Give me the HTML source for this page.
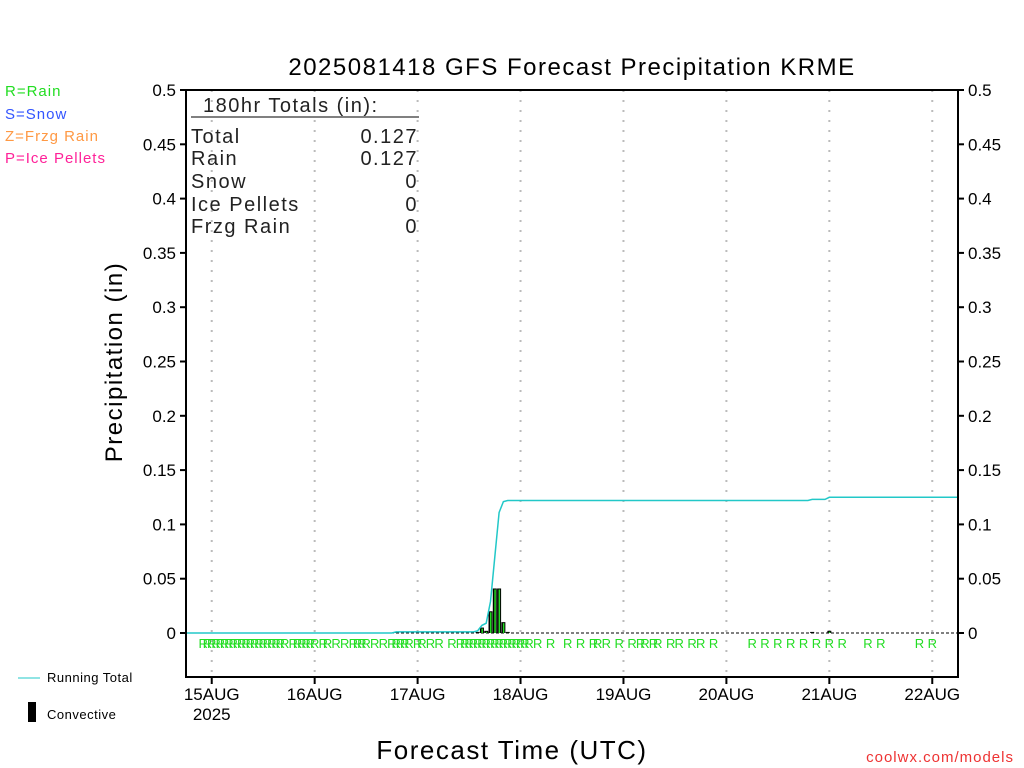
<!DOCTYPE html>
<html><head><meta charset="utf-8"><style>
html,body{margin:0;padding:0;background:#fff;}
svg{display:block;font-family:"Liberation Sans",sans-serif;}
</style></head><body>
<svg id="c" width="1024" height="768" viewBox="0 0 1024 768" xmlns="http://www.w3.org/2000/svg">
<text x="572" y="75" font-size="24" text-anchor="middle" fill="#000" letter-spacing="1.5">2025081418 GFS Forecast Precipitation KRME</text>
<g font-size="15" letter-spacing="1">
<text x="5" y="96" fill="#22dd22">R=Rain</text>
<text x="5" y="119" fill="#3355ff">S=Snow</text>
<text x="5" y="141" fill="#ff9944">Z=Frzg Rain</text>
<text x="5" y="163" fill="#ff2299">P=Ice Pellets</text>
</g>
<g id="grid"></g>
<g id="marks"></g>
<rect x="186" y="90" width="772" height="587" fill="none" stroke="#000" stroke-width="2"/>
<g id="axes" font-size="17"></g>
<g font-size="20" fill="#222" letter-spacing="1.5">
<text x="203" y="112">180hr Totals (in):</text>
<line x1="191" y1="117" x2="419" y2="117" stroke="#000" stroke-width="1"/>
<text x="191" y="143">Total</text><text x="418" y="143" text-anchor="end">0.127</text>
<text x="191" y="165">Rain</text><text x="418" y="165" text-anchor="end">0.127</text>
<text x="191" y="188">Snow</text><text x="418" y="188" text-anchor="end">0</text>
<text x="191" y="211">Ice Pellets</text><text x="418" y="211" text-anchor="end">0</text>
<text x="191" y="233">Frzg Rain</text><text x="418" y="233" text-anchor="end">0</text>
</g>
<text transform="translate(122,362) rotate(-90)" font-size="24" text-anchor="middle" letter-spacing="1.5">Precipitation (in)</text>
<text x="512" y="759" font-size="26" text-anchor="middle" letter-spacing="1.5">Forecast Time (UTC)</text>
<text x="1014" y="762" font-size="15" text-anchor="end" fill="#ee3333" letter-spacing="1">coolwx.com/models</text>
<g>
<line x1="18" y1="678" x2="40" y2="678" stroke="#22c8c8" stroke-width="1"/>
<text x="47" y="682" font-size="13" letter-spacing="0.5">Running Total</text>
<rect x="28" y="702" width="8" height="20" fill="#000"/>
<text x="47" y="719" font-size="13" letter-spacing="0.5">Convective</text>
</g>
</svg>
<script>
const yTicks=[0,0.05,0.1,0.15,0.2,0.25,0.3,0.35,0.4,0.45,0.5];
const dayLabels=["15AUG","16AUG","17AUG","18AUG","19AUG","20AUG","21AUG","22AUG"];
const dayHours=[6,30,54,78,102,126,150,174];
const precipHours=[49,68,69,70,71,72,73,74,75,146,150];
const precipValues=[0.001,0.001,0.005,0.002,0.02,0.041,0.041,0.01,0.001,0.001,0.002];
const rainHours=[4,5,6,7,8,9,10,11,12,13,14,15,16,17,18,19,20,21,22,23,25,26,27,28,29,30,32,33,35,37,39,40,41,42,44,46,48,49,50,51,52,54,55,57,59,62,64,65,66,67,68,69,70,71,72,73,74,75,76,77,78,79,80,82,85,89,92,95,96,98,101,104,106,107,109,110,113,115,118,120,123,132,135,138,141,144,147,150,153,159,162,171,174];
const NS="http://www.w3.org/2000/svg";
const X=h=>186+h*772/180;
const Y=v=>633-v*1086;
function mk(tag,attrs,parent){const e=document.createElementNS(NS,tag);for(const k in attrs)e.setAttribute(k,attrs[k]);parent.appendChild(e);return e;}
const grid=document.getElementById('grid'),marks=document.getElementById('marks'),axes=document.getElementById('axes');
dayHours.forEach((h,i)=>{
 const g=mk('line',{x1:X(h),x2:X(h),y1:90,y2:677,stroke:'#bbb','stroke-width':2,'stroke-dasharray':'2,8'},grid);
 
 
 const t=mk('line',{x1:X(h),x2:X(h),y1:677,y2:684,stroke:'#000','stroke-width':2},axes);
 
 
 const l=mk('text',{x:X(h),y:700,'text-anchor':'middle'},axes);l.textContent=dayLabels[i];
 
 
});
const yr=mk('text',{x:X(6),y:720,'text-anchor':'middle'},axes);yr.textContent='2025';


yTicks.forEach(v=>{
 [[180,186],[958,964]].forEach(p=>{const t=mk('line',{x1:p[0],x2:p[1],y1:Y(v),y2:Y(v),stroke:'#000','stroke-width':2},axes);
 
 });
 const a=mk('text',{x:176,y:Y(v)+6,'text-anchor':'end'},axes);a.textContent=String(v);
 
 
 const b=mk('text',{x:968,y:Y(v)+6},axes);b.textContent=String(v);
 
 
});
const z=mk('line',{x1:186,x2:958,y1:Y(0),y2:Y(0),stroke:'#000','stroke-width':1,'stroke-dasharray':'3,2'},marks);


precipHours.forEach((h,i)=>{
 const v=precipValues[i];
 const r=mk('rect',{x:X(h)-2,y:Y(v),width:4,height:Y(0)-Y(v),fill:'#000'},marks);
 
 
 const g=mk('rect',{x:X(h)-0.5,y:Y(v)+1,width:1.5,height:Math.max(0,Y(0)-Y(v)-1),fill:'#22dd22'},marks);
 
 
});
let pts=[],cum=0;
for(let h=0;h<=180;h++){const i=precipHours.indexOf(h);if(i>=0)cum+=precipValues[i];pts.push(X(h).toFixed(1)+','+Y(cum).toFixed(1));}
const pl=mk('polyline',{points:pts.join(' '),fill:'none',stroke:'#22c8c8','stroke-width':1.5},marks);


rainHours.forEach(h=>{
 const t=mk('text',{x:X(h),y:648,'text-anchor':'middle','font-size':13,fill:'#22dd22'},marks);t.textContent='R';
 
 
});
</script>
</body></html>
